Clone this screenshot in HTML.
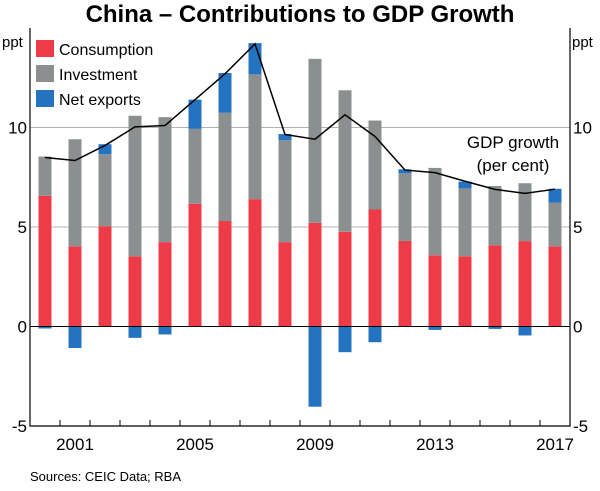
<!DOCTYPE html>
<html><head><meta charset="utf-8"><style>
body{margin:0;background:#fff}
svg text{font-family:"Liberation Sans",Arial,sans-serif}
</style></head><body>
<svg id="c" width="600" height="486" viewBox="0 0 600 486" xmlns="http://www.w3.org/2000/svg">
<text x="300" y="22" text-anchor="middle" font-size="24" font-weight="bold">China – Contributions to GDP Growth</text>
<g id="grid"></g><g id="bars"></g><g id="line"></g>
<g id="axes"></g>
<rect x="36" y="40" width="18" height="17" fill="#ee3b48"/>
<text x="59" y="55" font-size="16">Consumption</text>
<rect x="36" y="65" width="18" height="17" fill="#8c8f8f"/>
<text x="59" y="80" font-size="16">Investment</text>
<rect x="36" y="90" width="18" height="17" fill="#2473c0"/>
<text x="59" y="105" font-size="16">Net exports</text>
<text x="513" y="148" text-anchor="middle" font-size="17">GDP growth</text>
<text x="513" y="171" text-anchor="middle" font-size="17">(per cent)</text>
<text x="2" y="47" font-size="15">ppt</text>
<text x="572" y="47" font-size="15">ppt</text>
<text x="30" y="481" font-size="13">Sources: CEIC Data; RBA</text>
</svg>
<script>
const years=[2000,2001,2002,2003,2004,2005,2006,2007,2008,2009,2010,2011,2012,2013,2014,2015,2016,2017];
const consumption=[6.57,4.03,5.04,3.53,4.24,6.17,5.3,6.4,4.24,5.21,4.76,5.88,4.3,3.58,3.53,4.08,4.29,4.03];
const investment=[1.97,5.38,3.62,7.06,6.28,3.76,5.44,6.27,5.12,8.24,7.11,4.47,3.4,4.39,3.41,2.98,2.91,2.19];
const netExports=[-0.1,-1.08,0.5,-0.57,-0.4,1.47,2.0,1.57,0.31,-4.03,-1.29,-0.79,0.2,-0.17,0.34,-0.12,-0.45,0.7];
const gdp=[8.49,8.34,9.1,10.03,10.1,11.4,12.7,14.2,9.65,9.41,10.64,9.55,7.86,7.73,7.3,6.89,6.69,6.9];
const yTicks=[-5,0,5,10];
const xLabels=[2001,2005,2009,2013,2017];
const NS="http://www.w3.org/2000/svg";
const L=30,R=570,yMin=-5,yMax=15,T=28,B=426;
const x=i=>L+(i+0.5)*(R-L)/years.length;
const y=v=>B-(v-yMin)/(yMax-yMin)*(B-T);
const bw=13;
function mk(tag,attrs,parent){const e=document.createElementNS(NS,tag);for(const k in attrs)e.setAttribute(k,attrs[k]);document.getElementById(parent).appendChild(e);return e;}
[5,10].forEach(v=>{const g=mk('line',{x1:L,x2:R,y1:y(v),y2:y(v),stroke:'#b4b4b4','stroke-width':1},'grid');

});
years.forEach((yr,i)=>{
 let pos=0,neg=0;
 const parts=[[consumption[i],'#ee3b48','consumption'],[investment[i],'#8c8f8f','investment'],[netExports[i],'#2473c0','net-exports']];
 parts.forEach(([v,c,n])=>{
  let y0,y1;
  if(v>=0){y0=pos;y1=pos+v;pos=y1;}else{y0=neg;y1=neg+v;neg=y1;}
  const r=mk('rect',{x:x(i)-bw/2,y:Math.min(y(y0),y(y1)),width:bw,height:Math.abs(y(y0)-y(y1)),fill:c},'bars');
  
  
 });
});
const pl=mk('polyline',{points:gdp.map((v,i)=>x(i)+','+y(v)).join(' '),fill:'none',stroke:'#000','stroke-width':1.5},'line');


const z=mk('line',{x1:L,x2:R,y1:y(0),y2:y(0),stroke:'#000','stroke-width':1},'axes');


const fr=mk('path',{d:`M${L},${T}V${B}H${R}V${T}`,fill:'none',stroke:'#000','stroke-width':1.2},'axes');


for(let i=1;i<years.length;i++){const xx=L+i*(R-L)/years.length;const t=mk('line',{x1:xx,x2:xx,y1:B,y2:B-6,stroke:'#000'},'axes');

}
yTicks.forEach(v=>{
 const a=mk('text',{x:27,y:y(v)+6,'text-anchor':'end','font-size':17},'axes');a.textContent=v;
 
 
 const b=mk('text',{x:573,y:y(v)+6,'font-size':17},'axes');b.textContent=v;
 
 
});
xLabels.forEach(yr=>{const i=years.indexOf(yr);const t=mk('text',{x:x(i),y:450,'text-anchor':'middle','font-size':17},'axes');t.textContent=yr;

});
</script>
</body></html>
